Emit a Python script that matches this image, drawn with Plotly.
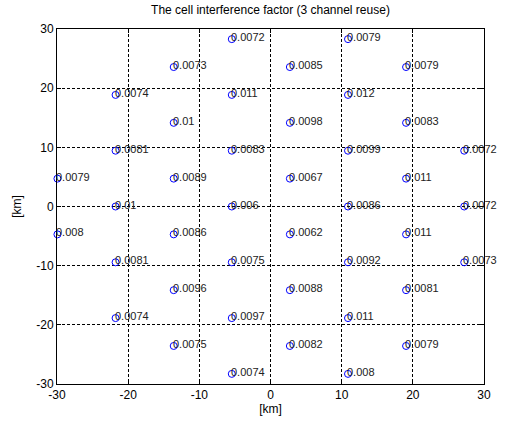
import plotly.graph_objects as go

# cell centre coordinates [km] and interference factors
cell_x = [
    -29.94, -29.94,
    -21.77, -21.77, -21.77, -21.77, -21.77,
    -13.60, -13.60, -13.60, -13.60, -13.60, -13.60,
    -5.44, -5.44, -5.44, -5.44, -5.44, -5.44, -5.44,
    2.72, 2.72, 2.72, 2.72, 2.72, 2.72,
    10.89, 10.89, 10.89, 10.89, 10.89, 10.89, 10.89,
    19.05, 19.05, 19.05, 19.05, 19.05, 19.05,
    27.22, 27.22, 27.22,
]
cell_y = [
    4.71, -4.71,
    18.86, 9.43, 0.0, -9.43, -18.86,
    23.57, 14.14, 4.71, -4.71, -14.14, -23.57,
    28.29, 18.86, 9.43, 0.0, -9.43, -18.86, -28.29,
    23.57, 14.14, 4.71, -4.71, -14.14, -23.57,
    28.29, 18.86, 9.43, 0.0, -9.43, -18.86, -28.29,
    23.57, 14.14, 4.71, -4.71, -14.14, -23.57,
    9.43, 0.0, -9.43,
]
factor_labels = [
    "0.0079", "0.008",
    "0.0074", "0.0081", "0.01", "0.0081", "0.0074",
    "0.0073", "0.01", "0.0089", "0.0086", "0.0096", "0.0075",
    "0.0072", "0.011", "0.0083", "0.006", "0.0075", "0.0097", "0.0074",
    "0.0085", "0.0098", "0.0067", "0.0062", "0.0088", "0.0082",
    "0.0079", "0.012", "0.0099", "0.0086", "0.0092", "0.011", "0.008",
    "0.0079", "0.0083", "0.011", "0.011", "0.0081", "0.0079",
    "0.0072", "0.0072", "0.0073",
]
tick_vals = [-30, -20, -10, 0, 10, 20, 30]
tick_text = ["-30", "-20", "-10", "0", "10", "20", "30"]

FONT = "Liberation Sans, Arial, sans-serif"

fig = go.Figure()
fig.add_trace(go.Scatter(
    x=cell_x, y=cell_y, mode="markers",
    marker=dict(symbol="circle-open", size=7, color="#0000ff", line=dict(width=1, color="#0000ff")),
    hoverinfo="skip", showlegend=False, cliponaxis=False,
))

for xv, yv, lab in zip(cell_x, cell_y, factor_labels):
    fig.add_annotation(
        x=xv, y=yv, xref="x", yref="y", text=lab, showarrow=False,
        xanchor="left", yanchor="middle", xshift=-3, yshift=2,
        font=dict(family=FONT, size=11, color="#222222"),
    )

axis_common = dict(
    range=[-30, 30], tickvals=tick_vals, ticktext=tick_text,
    showgrid=True, gridcolor="#000000", gridwidth=1, griddash="3px,2px",
    zeroline=False, showline=True, linecolor="#000000", linewidth=1,
    mirror="ticks", ticks="inside", ticklen=4, tickcolor="#000000",
    tickfont=dict(family=FONT, size=12, color="#000000"),
)
fig.update_xaxes(**axis_common, title=dict(text="[km]", font=dict(family=FONT, size=12, color="#000000"), standoff=3))
fig.update_yaxes(**axis_common, title=dict(text="[km]", font=dict(family=FONT, size=12, color="#000000"), standoff=12))

fig.update_layout(
    width=508, height=426,
    margin=dict(l=57, r=24, t=29, b=39),
    paper_bgcolor="#ffffff", plot_bgcolor="#ffffff",
    title=dict(text="The cell interference factor (3 channel reuse)", x=0.5, xanchor="center",
               xref="paper", y=0.988, yanchor="top",
               font=dict(family=FONT, size=12, color="#000000")),
)

fig.write_html("out.html")
